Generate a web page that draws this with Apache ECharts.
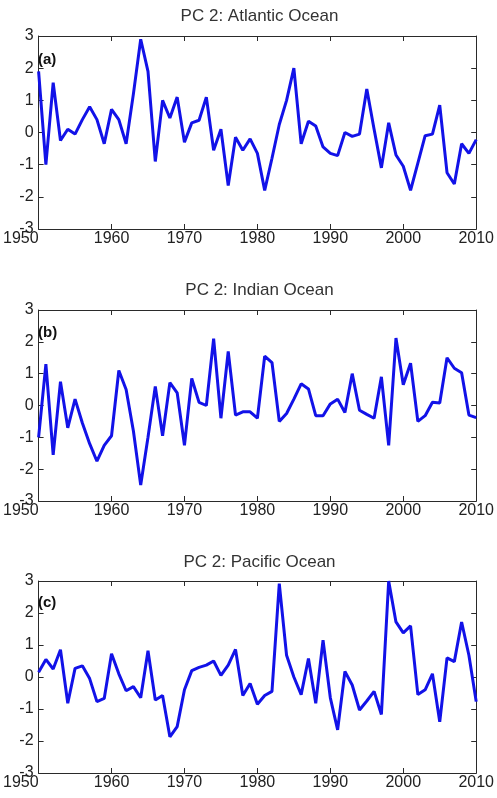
<!DOCTYPE html>
<html>
<head>
<meta charset="utf-8">
<script src="https://cdn.jsdelivr.net/npm/echarts@6/dist/echarts.min.js"></script>
<style>
  html, body { margin: 0; padding: 0; background: #fff; }
  #chart { width: 497px; height: 798px; }
</style>
</head>
<body>
<div id="chart"></div>
<script>
// years 1950..2010
const years = Array.from({ length: 61 }, (_, i) => 1950 + i);

// PC 2 time series
const atlantic = [
  1.9, -1.0, 1.55, -0.25, 0.1, -0.05, 0.4, 0.8, 0.4, -0.35,
  0.72, 0.4, -0.35, 1.2, 2.9, 1.9, -0.9, 1.0, 0.45, 1.1,
  -0.3, 0.3, 0.38, 1.1, -0.55, 0.1, -1.65, -0.15, -0.55, -0.2,
  -0.65, -1.8, -0.8, 0.25, 1.0, 2.0, -0.35, 0.35, 0.2, -0.45,
  -0.65, -0.72, 0.0, -0.12, -0.05, 1.35, 0.1, -1.1, 0.3, -0.7,
  -1.05, -1.8, -0.95, -0.1, -0.05, 0.85, -1.25, -1.6, -0.35, -0.65,
  -0.22
];
const indian = [
  -1.0, 1.3, -1.55, 0.75, -0.7, 0.2, -0.55, -1.2, -1.75, -1.25,
  -0.95, 1.1, 0.5, -0.8, -2.5, -1.0, 0.6, -0.95, 0.72, 0.4,
  -1.25, 0.85, 0.1, 0.0, 2.1, -0.4, 1.7, -0.3, -0.2, -0.2,
  -0.4, 1.55, 1.35, -0.5, -0.25, 0.2, 0.68, 0.52, -0.32, -0.32,
  0.05, 0.2, -0.22, 1.0, -0.15, -0.28, -0.4, 0.9, -1.25, 2.12,
  0.65, 1.33, -0.5, -0.32, 0.1, 0.08, 1.5, 1.17, 1.03, -0.3,
  -0.38
];
const pacific = [
  0.15, 0.55, 0.25, 0.85, -0.82, 0.27, 0.35, -0.05, -0.77, -0.67,
  0.73, 0.1, -0.43, -0.3, -0.65, 0.82, -0.72, -0.58, -1.87, -1.55,
  -0.4, 0.2, 0.3, 0.37, 0.5, 0.05, 0.37, 0.86, -0.58, -0.2,
  -0.85, -0.58, -0.45, 2.92, 0.68, 0.0, -0.55, 0.58, -0.82, 1.15,
  -0.65, -1.65, 0.17, -0.25, -1.03, -0.75, -0.45, -1.17, 3.0, 1.72,
  1.38, 1.6, -0.55, -0.4, 0.1, -1.4, 0.6, 0.48, 1.72, 0.68,
  -0.77
];

const titles = ['PC 2: Atlantic Ocean', 'PC 2: Indian Ocean', 'PC 2: Pacific Ocean'];
const panelTags = ['(a)', '(b)', '(c)'];
const seriesList = [atlantic, indian, pacific];

// panel geometry
const panels = [
  { top: 36, height: 193, titleTop: 3, tagTop: 47 },
  { top: 310, height: 191, titleTop: 277, tagTop: 320 },
  { top: 581, height: 192, titleTop: 549, tagTop: 590 }
];
const gridLeft = 31;
const gridWidth = 447;

const frameColor = '#2a2a2a';
const labelStyle = { color: '#222', fontSize: 16, fontFamily: 'Liberation Sans, Arial, sans-serif' };

const grid = [];
const xAxis = [];
const yAxis = [];
const series = [];
const title = [];

panels.forEach((p, i) => {
  grid.push({ left: gridLeft, top: p.top, width: gridWidth, height: p.height, show: false });

  title.push({
    text: titles[i],
    left: gridLeft + gridWidth / 2,
    textAlign: 'center',
    top: p.titleTop,
    textStyle: { color: '#333', fontSize: 17, fontWeight: 'normal', fontFamily: 'Liberation Sans, Arial, sans-serif' }
  });
  title.push({
    text: panelTags[i],
    left: 33,
    top: p.tagTop,
    textStyle: { color: '#111', fontSize: 15, fontWeight: 'bold', fontFamily: 'Liberation Sans, Arial, sans-serif' }
  });

  const xBase = {
    type: 'value', gridIndex: i, min: 1950, max: 2010, interval: 10,
    splitLine: { show: false },
    axisLine: { show: true, onZero: false, lineStyle: { color: frameColor, width: 1 } },
    axisTick: { show: true, inside: true, length: 5, lineStyle: { color: frameColor } }
  };
  xAxis.push(Object.assign({}, xBase, {
    position: 'bottom',
    axisLabel: Object.assign({ margin: 2, formatter: v => String(v), alignMinLabel: 'right', showMinLabel: true, showMaxLabel: true }, labelStyle)
  }));
  xAxis.push(Object.assign({}, xBase, { position: 'top', axisLabel: { show: false } }));

  const yBase = {
    type: 'value', gridIndex: i, min: -3, max: 3, interval: 1,
    splitLine: { show: false },
    axisLine: { show: true, onZero: false, lineStyle: { color: frameColor, width: 1 } },
    axisTick: { show: true, inside: true, length: 5, lineStyle: { color: frameColor } }
  };
  yAxis.push(Object.assign({}, yBase, {
    position: 'left',
    axisLabel: Object.assign({ margin: 5, showMinLabel: true, showMaxLabel: true }, labelStyle)
  }));
  yAxis.push(Object.assign({}, yBase, { position: 'right', axisLabel: { show: false } }));

  series.push({
    type: 'line',
    xAxisIndex: i * 2,
    yAxisIndex: i * 2,
    data: years.map((y, k) => [y, seriesList[i][k]]),
    showSymbol: false,
    symbol: 'none',
    lineStyle: { color: '#1212e8', width: 3 },
    animation: false
  });
});

const chart = echarts.init(document.getElementById('chart'), null, { renderer: 'canvas' });
chart.setOption({
  animation: false,
  backgroundColor: '#fff',
  title,
  grid,
  xAxis,
  yAxis,
  series
});
</script>
</body>
</html>
